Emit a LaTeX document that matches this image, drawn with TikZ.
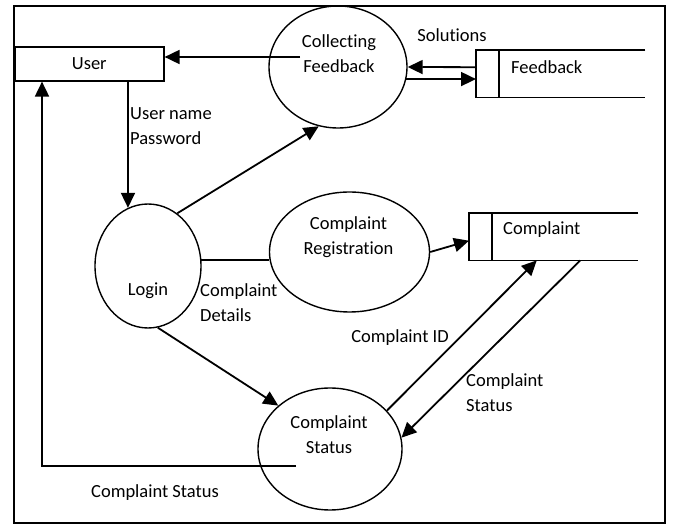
\documentclass[tikz,border=0pt]{standalone}
\usepackage{fontspec}
\setmainfont{Carlito}[Ligatures=NoCommon]
\usetikzlibrary{shapes.geometric,arrows.meta,calc}
\begin{document}
\begin{tikzpicture}[x=1pt,y=-1pt,font=\fontsize{18.5}{25}\selectfont]
\tikzset{
  proc/.style={ellipse, draw, line width=1.4pt, inner sep=0pt},
  lbl/.style={inner sep=0pt, align=center},
  arr/.style={line width=1.8pt, -{Triangle[length=15pt,width=14pt]}},
  flow/.style={line width=1.8pt},
  storebox/.style={rectangle, inner sep=0pt, minimum width=169, minimum height=47, anchor=north west},
  storeline/.style={line width=1.6pt},
}
\useasboundingbox (0,0) rectangle (673,526);
\draw[line width=2.4pt] (14,6) rectangle (665,523);
% entity
\node[draw, line width=1.6pt, minimum width=149, minimum height=34, inner sep=0pt, anchor=north west] (user) at (14,46) {User};
% processes
\node[proc, minimum width=138, minimum height=122] (collfb) at (338,67) {};
\node[lbl] (collfbt) at (339,54) {Collecting\\Feedback};
\node[proc, minimum width=106, minimum height=124] (login) at (148,266) {};
\node[lbl] (logint) at (148,291) {Login};
\node[proc, minimum width=160, minimum height=120] (compreg) at (349.5,252) {};
\node[lbl] (compregt) at (348.5,237) {Complaint\\Registration};
\node[proc, minimum width=144, minimum height=122] (compstat) at (330,449) {};
\node[lbl] (compstatt) at (329,434.5) {Complaint\\Status};
% stores
\node[storebox] (fbstore) at (476,50) {};
\draw[storeline] (fbstore.north east) -- (fbstore.north west) -- (fbstore.south west) -- (fbstore.south east);
\draw[storeline] ($(fbstore.north west)+(23,0)$) -- ($(fbstore.south west)+(23,0)$);
\node[lbl, anchor=west] (fbt) at (511,67) {Feedback};
\node[storebox] (cstore) at (469,213) {};
\draw[storeline] (cstore.north east) -- (cstore.north west) -- (cstore.south west) -- (cstore.south east);
\draw[storeline] ($(cstore.north west)+(23,0)$) -- ($(cstore.south west)+(23,0)$);
\node[lbl, anchor=west] (cst) at (503,230) {Complaint};
% flows
\coordinate (cf1) at ($(collfb.center)+(-38,-10)$);
\draw[arr] (cf1) -- (user.east |- cf1);
\draw[arr] (user.south -| login.109) -- (login.109);
\draw[arr] (login.61) -- (collfb.252);
\draw[flow] (login.6.5) -- (compreg.west |- login.6.5);
\draw[arr] (compreg.east) -- ($(cstore.west)+(0,4)$);
\draw[arr] (login.279) -- (compstat.140);
\draw[arr] (compstat.34) -- ($(cstore.south west)!0.4!(cstore.south east)$);
\draw[arr] ($(cstore.south west)!0.657!(cstore.south east)$) -- (compstat.9);
\draw[arr] ($(compstat.center)+(-34,17)$) -| ($(user.south west)+(28,0)$);
\draw[arr] ($(fbstore.west)+(0,-6.5)$) -- (collfb.east);
\draw[arr] (collfb.-10.9) -- (fbstore.west |- collfb.-10.9);
% flow labels
\node[lbl, anchor=west, align=left] (upw) at (130,126.5) {User name\\Password};
\node[lbl] (sol) at (452,35) {Solutions};
\node[lbl, anchor=west, align=left] (cdet) at (200,303) {Complaint\\Details};
\node[lbl] (cid) at (400,338) {Complaint ID};
\node[lbl, anchor=west, align=left] (cstl) at (466,393) {Complaint\\Status};
\node[lbl] (cst2) at (155,493) {Complaint Status};
\end{tikzpicture}
\end{document}
